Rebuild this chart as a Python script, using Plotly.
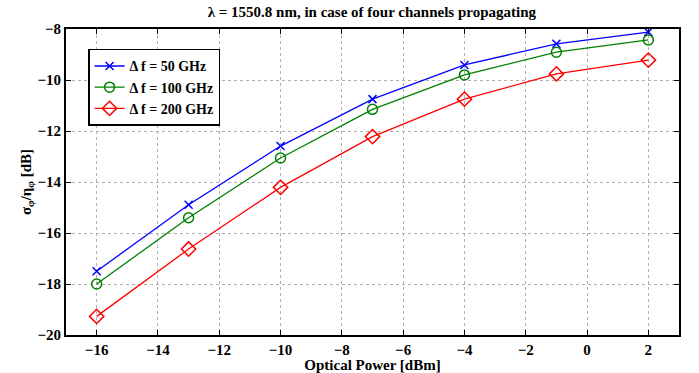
import plotly.graph_objects as go

power = [-16, -13, -10, -7, -4, -1, 2]
df50 = [-17.5, -14.89, -12.59, -10.75, -9.41, -8.58, -8.12]
df100 = [-18.0, -15.40, -13.06, -11.15, -9.80, -8.91, -8.43]
df200 = [-19.27, -16.63, -14.21, -12.22, -10.75, -9.76, -9.22]
names = ["Δ f = 50 GHz", "Δ f = 100 GHz", "Δ f = 200 GHz"]
xticks = [-16, -14, -12, -10, -8, -6, -4, -2, 0, 2]
yticks = [-20, -18, -16, -14, -12, -10, -8]

FONT = "Liberation Serif"
def bf(size=14):
    return dict(family=FONT, size=size, color="black", weight="bold")

fig = go.Figure()
styles = [("#0000ff", "x-thin-open", 8), ("#008000", "circle-open", 10), ("#ff0000", "diamond-open", 11)]
for name, ys, (c, sym, sz) in zip(names, [df50, df100, df200], styles):
    fig.add_trace(go.Scatter(
        x=power, y=ys, mode="lines+markers", name=name,
        line=dict(color=c, width=1.3),
        marker=dict(symbol=sym, size=sz, color=c, line=dict(color=c, width=1.5)),
    ))

def lab(t):
    return "<b>" + ("−" + str(-t) if t < 0 else str(t)) + "</b>"

axis_common = dict(
    showgrid=True, gridcolor="#b0b0b0", griddash="dot", gridwidth=1,
    showline=True, linecolor="black", linewidth=2, mirror="ticks",
    ticks="inside", ticklen=5, tickwidth=1, tickcolor="black",
    zeroline=False, automargin=False,
    tickfont=bf(15),
)
fig.update_xaxes(range=[-17, 3], tickvals=xticks, ticktext=[lab(t) for t in xticks],
                 title=dict(text="Optical Power [dBm]", font=bf(15), standoff=0),
                 **axis_common)
fig.update_yaxes(range=[-20, -8], tickvals=yticks, ticktext=[lab(t) for t in yticks],
                 title=dict(text="σ<sub>φ</sub>/η<sub>φ</sub> [dB]", font=bf(15), standoff=2),
                 **axis_common)

fig.update_layout(
    width=699, height=373,
    margin=dict(l=66, r=20, t=29, b=38),
    paper_bgcolor="white", plot_bgcolor="white",
    title=dict(text="λ = 1550.8 nm, in case of four channels propagating",
               font=bf(15),
               x=0.532, xanchor="center", y=0.968, yanchor="middle"),
    legend=dict(x=0.036, y=0.935, xanchor="left", yanchor="top",
                bgcolor="white", bordercolor="black", borderwidth=1.5,
                font=bf(14),
                tracegroupgap=0, itemwidth=30),
    showlegend=True,
)
fig.write_html("out.html")
